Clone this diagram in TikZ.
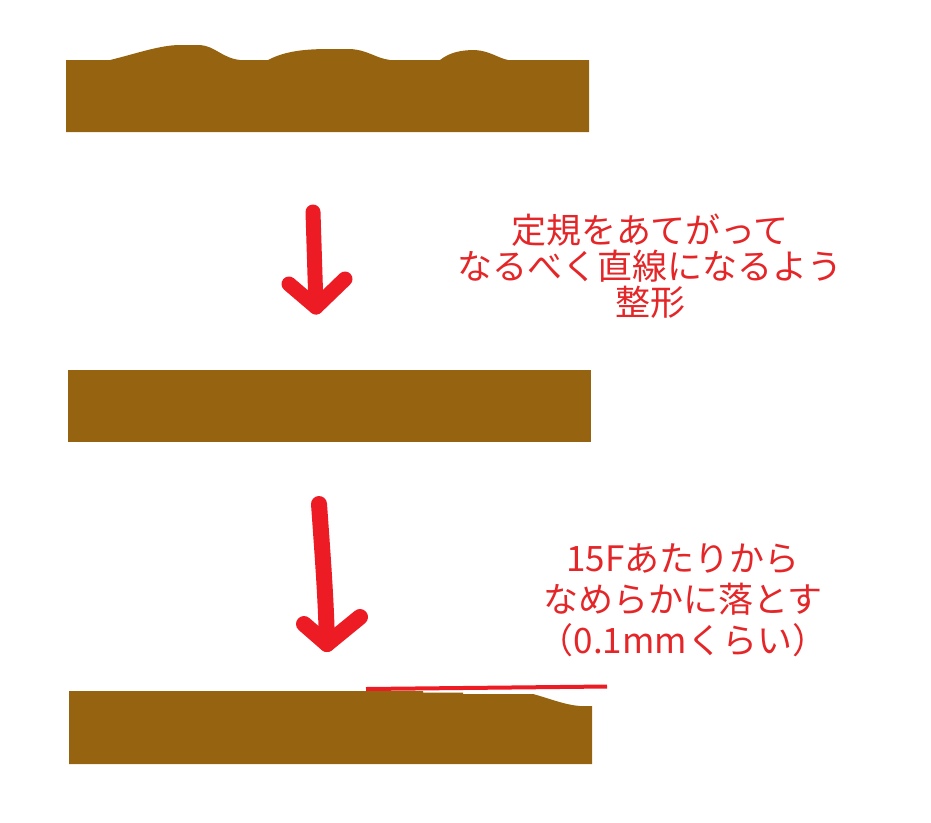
\documentclass[tikz,border=0pt]{standalone}
\usepackage{fontspec}
\newfontfamily\jpfont{Noto Sans CJK JP}
\definecolor{wood}{RGB}{150,100,16}
\definecolor{pen}{RGB}{237,28,36}
\definecolor{note}{RGB}{228,38,40}
\tikzset{
  plank/.style={fill=wood, draw=none},
  stroke/.style={draw=pen, line width=15pt, line cap=round, line join=round},
  memo/.style={text=note, align=center, inner sep=0pt}
}
\begin{document}
\begin{tikzpicture}[x=1pt,y=-1pt]
		    \useasboundingbox (0,0) rectangle (931,822);
		    % rough plank
		    \fill[plank] (66,132) -- (66,60) -- (110,60)
		    	.. controls (135,54) and (160,45) .. (180,45) -- (200,45)
		    	.. controls (215,46) and (222,58) .. (240,60) -- (268,60)
		    	.. controls (285,51) and (305,49) .. (330,49) -- (350,49)
		    	.. controls (368,50) and (375,58) .. (390,60) -- (440,60)
		    	.. controls (450,52) and (462,50) .. (475,50)
		    	.. controls (490,51) and (498,58) .. (508,60) -- (589,60) -- (589,132) -- cycle;
		    % straightened plank
		    \fill[plank] (68,370) rectangle (591,442);
		    % plank with the sloping end
		    \fill[plank] (69,764) -- (69,691) -- (423,691) -- (423,692.5) -- (463,692.5)
		    	-- (463,694) -- (533,694) .. controls (548,698) and (565,705) .. (580,706)
		    	-- (592,706) -- (592,764) -- cycle;
		    
		    \coordinate (AT) at (313,212);
		    \coordinate (AB) at (316,307);
		    \coordinate (AL) at (289,284);
		    \coordinate (AR) at (345,279);
		    \draw[stroke] (AT)--(AB);
		    \draw[stroke] (AL)--(AB)--(AR);
		    
		    \coordinate (BT) at (319,504);
		    \coordinate (BB) at (327,644);
		    \coordinate (BL) at (304,624);
		    \coordinate (BR) at (360,617);
		    \draw[stroke, line width=16pt] (BT) .. controls (323,560) and (326,600) .. (BB);
		    \draw[stroke, line width=16pt] (BL)--(BB)--(BR);
		    
		    \coordinate (LS) at (366,689);
		    \coordinate (LE) at (607,686.5);
		    \draw[draw=pen, line width=4pt] (LS)--(LE);
		    
		    \node[memo, font=\jpfont\fontsize{35}{36}\selectfont] (NA) at (650,266)
		    	{定規をあてがって\\なるべく直線になるよう\\整形};
		    \node[memo, font=\jpfont\fontsize{35}{41}\selectfont] (NB) at (683,600)
		    	{15Fあたりから\\なめらかに落とす\\（0.1mmくらい）};
\end{tikzpicture}
\end{document}
